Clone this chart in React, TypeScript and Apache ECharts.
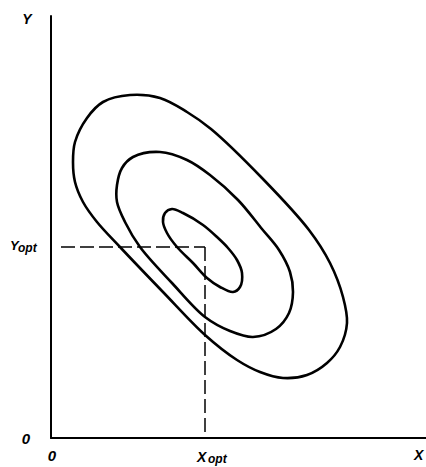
import React, { useEffect, useRef } from "react";
import * as echarts from "echarts";

// axis extents (arbitrary units)
const xRange = [0, 375];
const yRange = [0, 422];

// optimum point
const xOpt = 154;
const yOpt = 191;
const dashStartX = 10;

// contour lines (closed curves), points in data units
const outerContour: number[][] = [
  [79, 343], [109, 340], [136, 326], [160, 309], [211, 260], [258, 208],
  [279, 175], [292, 141], [296, 115], [289, 91], [276, 75], [256, 63],
  [232, 60], [209, 66], [186, 78], [154, 103], [112, 146], [69, 191],
  [46, 216], [32, 236], [24, 256], [22, 276], [24, 296], [36, 320], [52, 336],
];
const middleContour: number[][] = [
  [109, 286], [136, 278], [159, 263], [187, 238], [211, 209], [228, 188],
  [239, 166], [242, 146], [238, 125], [225, 109], [202, 101], [179, 107],
  [154, 121], [121, 155], [89, 191], [74, 216], [66, 236], [66, 253],
  [71, 270], [82, 281],
];
const innerContour: number[][] = [
  [121, 229], [132, 225], [152, 213], [167, 200], [177, 190], [186, 178],
  [191, 165], [189, 151], [182, 146], [169, 151], [156, 160], [142, 175],
  [126, 191], [116, 205], [112, 216], [114, 225],
];
const contours = [outerContour, middleContour, innerContour];

// texts
const xName = "X";
const yName = "Y";
const originText = "0";
const optMain = ["X", "Y"];
const optSub = "opt";

const FONT = "'Liberation Sans', Arial, Helvetica, sans-serif";

// closed centripetal Catmull-Rom curve through pixel points -> SVG path data
function closedCurvePath(p: number[][]): string {
  const n = p.length;
  const a = 0.5;
  const dist = (u: number[], v: number[]) => Math.max(1e-6, Math.hypot(u[0] - v[0], u[1] - v[1]));
  let d = `M${p[0][0]},${p[0][1]}`;
  for (let i = 0; i < n; i++) {
    const p0 = p[(i - 1 + n) % n];
    const p1 = p[i];
    const p2 = p[(i + 1) % n];
    const p3 = p[(i + 2) % n];
    const d1 = Math.pow(dist(p0, p1), a);
    const d2 = Math.pow(dist(p1, p2), a);
    const d3 = Math.pow(dist(p2, p3), a);
    const c1 = [0, 1].map(
      (k) => (d1 * d1 * p2[k] - d2 * d2 * p0[k] + (2 * d1 * d1 + 3 * d1 * d2 + d2 * d2) * p1[k]) / (3 * d1 * (d1 + d2))
    );
    const c2 = [0, 1].map(
      (k) => (d3 * d3 * p1[k] - d2 * d2 * p3[k] + (2 * d3 * d3 + 3 * d3 * d2 + d2 * d2) * p2[k]) / (3 * d3 * (d3 + d2))
    );
    d += ` C${c1[0]},${c1[1]} ${c2[0]},${c2[1]} ${p2[0]},${p2[1]}`;
  }
  return d + " Z";
}

export default function App() {
  const ref = useRef<HTMLDivElement>(null);

  useEffect(() => {
    if (!ref.current) return;
    const chart = echarts.init(ref.current, null, { renderer: "svg" });

    const contourSeries = contours.map((pts, i) => ({
      type: "custom",
      name: "contour" + i,
      coordinateSystem: "cartesian2d",
      data: pts,
      silent: true,
      renderItem: (params: any, api: any) => {
        if (params.dataIndex !== 0) return null;
        const points = pts.map((q) => api.coord(q));
        return {
          type: "path",
          shape: { pathData: closedCurvePath(points) },
          style: { fill: "none", stroke: "#000", lineWidth: 2.6 },
        };
      },
    }));

    const dashStyle = { color: "#000", width: 1.5, type: [14, 5] as any };

    chart.setOption({
      animation: false,
      backgroundColor: "#fff",
      grid: { left: 51, right: 0, top: 16, bottom: 29, containLabel: false },
      xAxis: {
        type: "value",
        min: xRange[0],
        max: xRange[1],
        axisLine: { show: true, lineStyle: { color: "#000", width: 2 } },
        axisTick: { show: false },
        axisLabel: { show: false },
        splitLine: { show: false },
      },
      yAxis: {
        type: "value",
        min: yRange[0],
        max: yRange[1],
        axisLine: { show: true, lineStyle: { color: "#000", width: 2 } },
        axisTick: { show: false },
        axisLabel: { show: false },
        splitLine: { show: false },
      },
      series: [
        ...contourSeries,
        {
          type: "line",
          data: [[dashStartX, yOpt], [xOpt, yOpt]],
          showSymbol: false,
          silent: true,
          lineStyle: dashStyle,
        },
        {
          type: "line",
          data: [[xOpt, yOpt], [xOpt, yRange[0]]],
          showSymbol: false,
          silent: true,
          lineStyle: dashStyle,
        },
      ],
    });

    const [ox, oy] = chart.convertToPixel({ gridIndex: 0 }, [xRange[0], yRange[0]]) as number[];
    const [px, py] = chart.convertToPixel({ gridIndex: 0 }, [xOpt, yOpt]) as number[];
    const [ex, ey] = chart.convertToPixel({ gridIndex: 0 }, [xRange[1], yRange[1]]) as number[];

    const txt = (text: string, x: number, y: number, size: number, align = "left") => ({
      type: "text",
      x,
      y,
      silent: true,
      style: {
        text,
        fill: "#000",
        font: `italic bold ${size}px ${FONT}`,
        align,
        verticalAlign: "middle",
      },
    });

    chart.setOption({
      graphic: [
        txt(yName, ox - 24, ey + 3, 14, "center"),
        txt(xName, ex - 12, oy + 17, 14, "left"),
        txt(originText, ox - 25, oy, 15, "center"),
        txt(originText, ox + 1, oy + 17, 15, "center"),
        txt(optMain[1], ox - 41, py - 2, 13, "left"),
        txt(optSub, ox - 33, py + 1, 12, "left"),
        txt(optMain[0], px - 8, oy + 19, 14, "left"),
        txt(optSub, px + 3, oy + 21, 12, "left"),
      ],
    });

    return () => chart.dispose();
  }, []);

  return (
    <div
      style={{ position: "fixed", left: 0, top: 0, width: 426, height: 467, background: "#fff" }}
    >
      <div ref={ref} style={{ width: 426, height: 467 }} />
    </div>
  );
}
